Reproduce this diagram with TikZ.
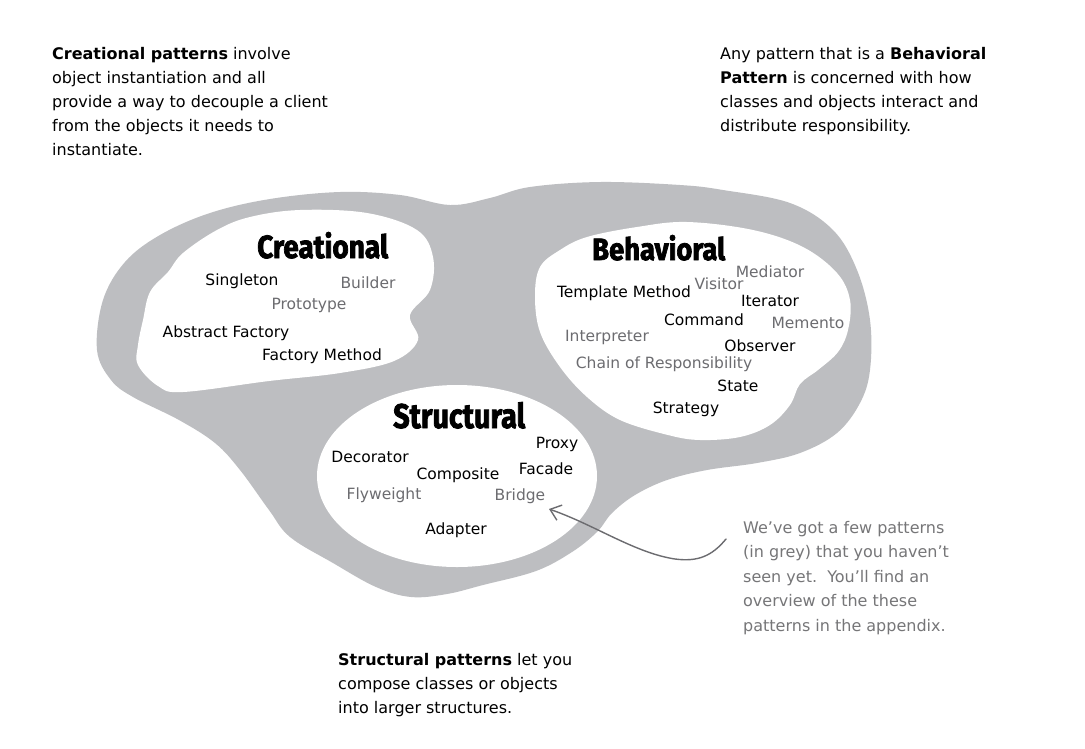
\documentclass[tikz,border=0pt]{standalone}
\usepackage{fontspec}
\setmainfont{DejaVu Sans}
\newfontfamily\titlefont{Fira Sans}[BoldFeatures={FakeBold=2.5}]
\usetikzlibrary{arrows.meta}
\definecolor{blobgrey}{RGB}{189,190,193}
\definecolor{newpat}{RGB}{108,108,112}
\definecolor{notegrey}{RGB}{118,118,120}
\begin{document}
\begin{tikzpicture}[x=1pt,y=-1pt,
  pat/.style={anchor=base, inner sep=0pt, font=\fontsize{15.5}{18}\selectfont, text=black},
  newp/.style={pat, text=newpat},
  grouptitle/.style={anchor=base west, inner sep=0pt, font=\titlefont\bfseries},
  para/.style={anchor=north west, inner sep=0pt, align=left, font=\fontsize{16}{24}\selectfont},
  notetext/.style={anchor=north west, inner sep=0pt, align=left, text=notegrey, font=\fontsize{16}{24.5}\selectfont},
  pointer/.style={draw=newpat, line width=1.4pt, line cap=round, -{Straight Barb[length=10pt,width=16pt,line width=1.4pt]}}
]
\fill[white] (0,0) rectangle (1085,748);
\useasboundingbox (0,0) rectangle (1085,748);

% outer grey blob
\fill[blobgrey] plot[smooth cycle, tension=0.6] coordinates {
 (97,350) (103,300) (125,262) (160,235) (210,213) (270,199) (340,192) (400,195)
 (450,205) (490,198) (530,187) (600,182) (680,185) (723,190) (790,203) (833,230)
 (857,270) (870,320) (870,370) (860,403) (837,433) (800,453) (757,463) (707,470)
 (667,480) (635,495) (612,513) (597,532) (572,552) (536,571) (483,585) (447,594)
 (411,597) (376,587) (333,563) (290,537) (269,510) (240,470) (215,443) (179,420)
 (133,397) (111,380)};

% creational white blob
\fill[white] plot[smooth cycle, tension=0.6] coordinates {
 (217,230) (250,217) (300,210) (367,213) (417,230) (433,257) (430,290) (410,315)
 (418,340) (394,361) (340,373) (269,381) (183,392) (158,386) (138,365) (138,345)
 (143,320) (150,292) (168,272) (183,253)};

% behavioral white blob
\fill[white] plot[smooth cycle, tension=0.6] coordinates {
 (540,267) (560,250) (587,237) (637,227) (687,222) (753,230) (803,247) (837,273)
 (850,300) (848,330) (838,352) (818,370) (800,384) (790,405) (770,425) (740,437)
 (700,440) (668,435) (620,420) (587,397) (560,367) (540,332) (535,296)};

% structural white ellipse
\fill[white] (457,476) ellipse [x radius=140, y radius=91];

% titles
\node[grouptitle] (tcre) at (257,258) {\resizebox{131pt}{26pt}{Creational}};
\node[grouptitle] (tbeh) at (592,260) {\resizebox{133pt}{25pt}{Behavioral}};
\node[grouptitle] (tstr) at (393,428) {\resizebox{132pt}{26pt}{Structural}};

% creational patterns
\node[pat]  (singleton) at (242,285) {Singleton};
\node[newp] (builder)   at (368,288) {Builder};
\node[newp] (prototype) at (309,309) {Prototype};
\node[pat]  (absfact)   at (226,337) {Abstract Factory};
\node[pat]  (factmeth)  at (322,360) {Factory Method};

% behavioral patterns
\node[newp] (mediator)  at (770,277) {Mediator};
\node[newp] (visitor)   at (719,289) {Visitor};
\node[pat]  (template)  at (624,297) {Template Method};
\node[pat]  (iterator)  at (770,306) {Iterator};
\node[pat]  (command)   at (704,325) {Command};
\node[newp] (memento)   at (808,328) {Memento};
\node[newp] (interp)    at (607,341) {Interpreter};
\node[pat]  (observer)  at (760,351) {Observer};
\node[newp] (chain)     at (664,368) {Chain of Responsibility};
\node[pat]  (state)     at (738,391) {State};
\node[pat]  (strategy)  at (686,413) {Strategy};

% structural patterns
\node[pat]  (proxy)     at (557,448) {Proxy};
\node[pat]  (decorator) at (370,462) {Decorator};
\node[pat]  (composite) at (458,479) {Composite};
\node[pat]  (facade)    at (546,474) {Facade};
\node[newp] (flyweight) at (384,499) {Flyweight};
\node[newp] (bridge)    at (520,500) {Bridge};
\node[pat]  (adapter)   at (456,534) {Adapter};

% paragraphs
\node[para] (crepara) at (52,47) {\textbf{Creational patterns} involve\\object instantiation and all\\provide a way to decouple a client\\from the objects it needs to\\instantiate.};
\node[para] (behpara) at (720,47) {Any pattern that is a \textbf{Behavioral}\\\textbf{Pattern} is concerned with how\\classes and objects interact and\\distribute responsibility.};
\node[para] (strpara) at (338,653) {\textbf{Structural patterns} let you\\compose classes or objects\\into larger structures.};

% note and pointer
\node[notetext] (note) at (743,521) {We've got a few patterns\\(in grey) that you haven't\\seen yet.\ \ You'll find an\\overview of the these\\patterns in the appendix.};
\coordinate (astart) at (726,539);
\coordinate (abend) at (675,559);
\coordinate (atip) at (549,509);
\draw[pointer] (astart) .. controls (712,556) and (698,562) .. (abend) .. controls (635,553) and (595,525) .. (atip);
\end{tikzpicture}
\end{document}
